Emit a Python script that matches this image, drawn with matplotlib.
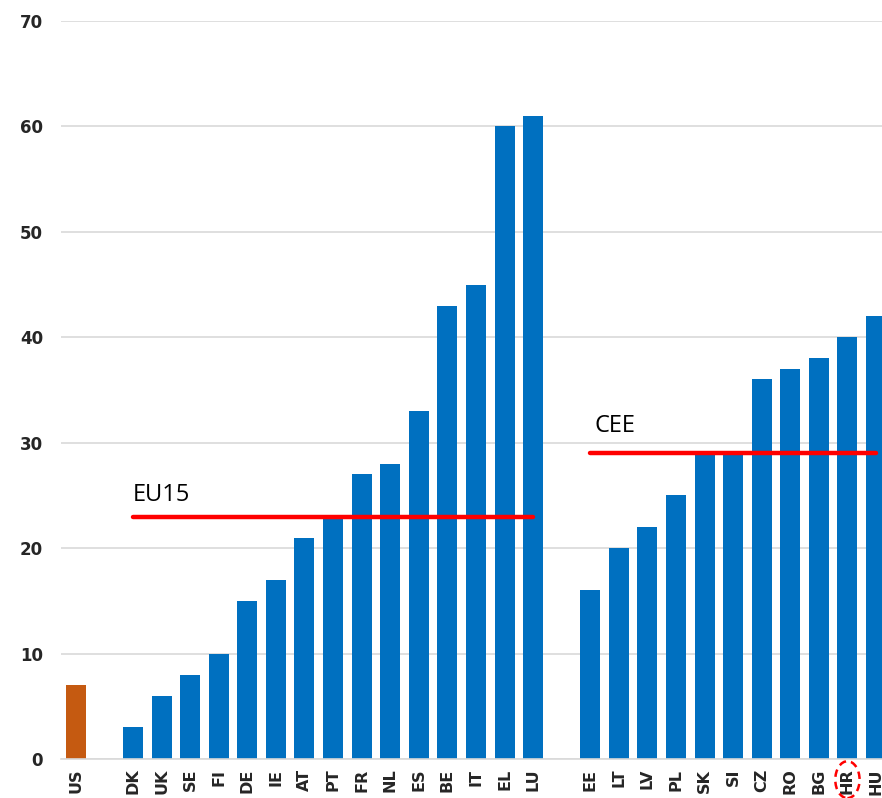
import matplotlib
matplotlib.use("Agg")
import matplotlib.pyplot as plt
from matplotlib.patches import Ellipse

countries_us = ["US"]
values_us = [7]
countries_eu15 = ["DK", "UK", "SE", "FI", "DE", "IE", "AT", "PT", "FR", "NL", "ES", "BE", "IT", "EL", "LU"]
values_eu15 = [3, 6, 8, 10, 15, 17, 21, 23, 27, 28, 33, 43, 45, 60, 61]
countries_cee = ["EE", "LT", "LV", "PL", "SK", "SI", "CZ", "RO", "BG", "HR", "HU"]
values_cee = [16, 20, 22, 25, 29, 29, 36, 37, 38, 40, 42]
avg_eu15 = 23
avg_cee = 29
yticks = [0, 10, 20, 30, 40, 50, 60, 70]

BLUE = "#0070C0"
ORANGE = "#C55A11"

# x positions with one empty slot between the groups
x_us = [0]
x_eu15 = list(range(2, 2 + len(countries_eu15)))
x_cee = list(range(x_eu15[-1] + 2, x_eu15[-1] + 2 + len(countries_cee)))

fig = plt.figure(figsize=(8.82, 7.98), dpi=100)
ax = fig.add_axes([61 / 882, 39 / 798, 1 - 61 / 882, (759 - 21) / 798])

w = 0.7
ax.bar(x_us, values_us, width=w, color=ORANGE, zorder=2)
ax.bar(x_eu15, values_eu15, width=w, color=BLUE, zorder=2)
ax.bar(x_cee, values_cee, width=w, color=BLUE, zorder=2)

# group averages
ax.plot([x_eu15[0], x_eu15[-1]], [avg_eu15, avg_eu15], color="#FF0000", lw=3.2,
        solid_capstyle="round", zorder=3)
ax.plot([x_cee[0], x_cee[-1]], [avg_cee, avg_cee], color="#FF0000", lw=3.2,
        solid_capstyle="round", zorder=3)
ax.text(x_eu15[0], avg_eu15 + 1.5, "EU15", fontsize=17, family="Open Sans",
        va="baseline", ha="left")
ax.text(x_cee[0] + 0.15, avg_cee + 2.0, "CEE", fontsize=17, family="Open Sans",
        va="baseline", ha="left")

ax.set_ylim(0, 70)
ax.set_xlim(-0.52, x_cee[-1] + 0.21)
ax.set_yticks(yticks)
ax.set_yticklabels([str(v) for v in yticks], fontsize=12, fontweight="bold",
                   family="DejaVu Sans", color="#262626")
all_x = x_us + x_eu15 + x_cee
all_lab = countries_us + countries_eu15 + countries_cee
ax.set_xticks(all_x)
ax.set_xticklabels(all_lab, rotation=90, fontsize=11.5, fontweight="bold",
                   family="DejaVu Sans", color="#262626")
ax.tick_params(axis="y", length=0, pad=13)
ax.tick_params(axis="x", length=0, pad=7)

ax.yaxis.grid(True, color="#d9d9d9", lw=1.2, zorder=0)
ax.set_axisbelow(True)
for s in ["top", "right", "left"]:
    ax.spines[s].set_visible(False)
ax.spines["bottom"].set_color("#d9d9d9")
ax.spines["bottom"].set_linewidth(1.2)

# highlight ring around HR
hr_x = x_cee[countries_cee.index("HR")]
ring = Ellipse((hr_x, -0.028), width=0.85, height=0.05, transform=ax.get_xaxis_transform(),
               fill=False, edgecolor="#FF0000", lw=1.8, linestyle=(0, (3, 2)), clip_on=False)
ax.add_patch(ring)

fig.savefig("out.png", dpi=100)
